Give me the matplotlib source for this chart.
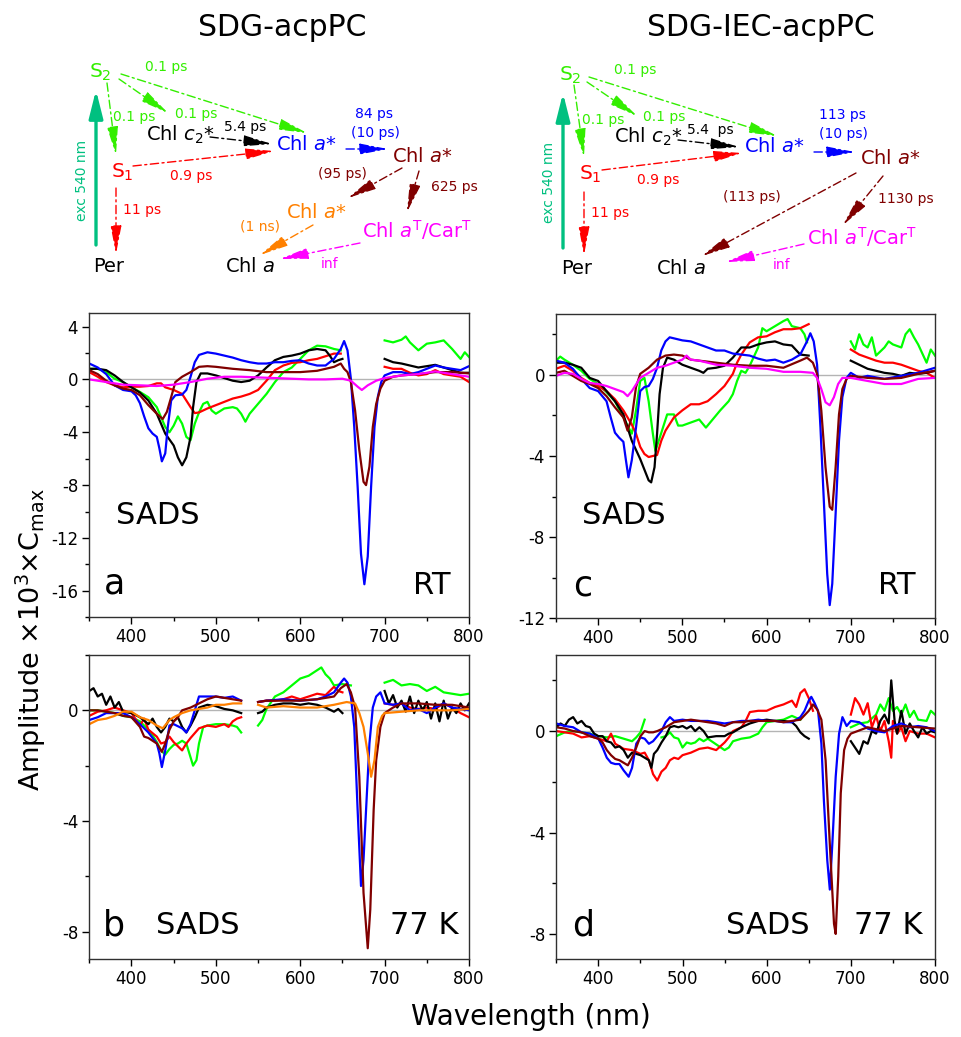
import numpy as np
import matplotlib
matplotlib.use('Agg')
import matplotlib.pyplot as plt
from matplotlib.ticker import MultipleLocator

nan = np.nan
plt.rcParams['font.family'] = ['DejaVu Sans']
plt.rcParams['axes.unicode_minus'] = False
plt.rcParams['mathtext.fontset'] = 'dejavusans'

GREEN = '#00ff00'
RED = '#ff0000'
BLUE = '#0000ff'
BLACK = '#000000'
BROWN = '#800000'
MAGENTA = '#ff00ff'
ORANGE = '#ff8000'
TEAL = '#00c080'
GTXT = '#33ee00'

# ---------------- Panel a (SDG-acpPC, RT) ----------------
a_blue_wl = [350,360,370,380,390,400,405,410,415,420,425,430,433,436,440,443,447,452,460,465,470,475,480,490,500,510,520,530,540,550,560,570,580,590,600,610,620,630,640,648,652,656,660,664,668,672,676,680,684,688,692,696,700,710,720,730,740,750,760,770,780,790,800]
a_blue = [1.2,0.9,0.4,-0.45,-0.8,-0.9,-1.2,-1.8,-2.8,-3.7,-4.1,-4.35,-5.2,-6.2,-5.6,-3.6,-1.6,-1.2,-1.15,-0.8,0.2,1.3,1.85,2.05,1.95,1.8,1.65,1.45,1.3,1.2,1.2,1.3,1.3,1.4,1.45,1.2,1.05,1.05,1.55,2.3,2.9,2.2,0.05,-3.6,-8.1,-13.2,-15.5,-13.4,-8.1,-3.6,-1.3,-0.2,0.3,0.55,0.55,0.4,0.55,0.8,1.05,0.9,0.8,0.7,1.0]

a_black_wl = [350,360,370,380,390,400,410,420,430,440,450,455,460,465,470,473,477,482,490,500,510,520,530,540,550,560,570,580,590,600,610,620,630,635,640,645,650,675,700,710,720,730,740,750,760,770,780,790,800]
a_black = [0.8,0.8,0.7,0.3,-0.2,-0.6,-1.0,-1.6,-2.6,-4.1,-5.0,-5.9,-6.5,-5.9,-4.35,-2.1,-0.2,0.45,0.45,0.3,0.1,-0.1,-0.2,-0.1,0.3,0.9,1.45,1.7,1.8,1.95,2.2,2.3,2.2,1.8,1.3,1.45,1.55,nan,1.55,1.3,1.2,1.05,0.9,1.0,1.1,0.9,0.7,0.5,0.5]

a_green_wl = [350,360,370,380,390,400,410,420,430,440,445,450,455,460,465,470,475,480,485,490,495,500,510,520,525,530,535,540,550,560,570,580,590,600,610,620,630,640,648,675,700,710,720,725,730,740,750,760,770,780,790,795,800]
a_green = [0.8,0.8,0.55,0.05,-0.2,-0.6,-0.95,-1.35,-2.1,-3.6,-4.0,-3.5,-2.8,-3.35,-4.35,-4.6,-3.35,-2.5,-1.85,-1.7,-2.35,-2.6,-2.2,-2.1,-2.2,-2.6,-3.2,-2.6,-1.85,-1.1,-0.2,0.55,0.9,1.55,2.2,2.55,2.5,2.3,2.2,nan,2.95,2.8,3.0,3.25,2.8,2.2,2.7,2.8,2.95,2.3,1.55,2.05,1.7]

a_red_wl = [350,360,370,380,390,400,410,420,430,435,440,450,460,470,475,480,490,500,510,520,530,540,550,560,570,580,590,600,610,620,630,640,648,675,700,710,720,730,740,750,760,770,780,790,800]
a_red = [0.55,0.2,-0.2,-0.45,-0.6,-0.55,-0.55,-0.5,-0.3,-0.3,-0.6,-0.8,-1.1,-2.1,-2.55,-2.5,-2.2,-1.95,-1.7,-1.45,-1.3,-1.1,-0.8,-0.1,0.7,1.05,1.25,1.3,1.45,1.55,1.75,1.95,1.95,nan,0.95,0.8,0.8,0.5,0.3,0.4,0.7,0.4,0.3,0.2,-0.2]

a_brown_wl = [350,360,370,380,390,400,410,420,430,437,442,447,452,460,470,480,490,500,520,540,560,580,600,620,640,648,652,656,660,665,670,675,678,682,686,690,695,700,710,720,740,760,780,800]
a_brown = [0.7,0.4,-0.1,-0.45,-0.7,-0.8,-1.2,-1.95,-2.6,-3.0,-2.45,-1.35,-0.2,0.2,0.55,0.95,1.0,0.95,0.8,0.7,0.55,0.55,0.55,0.65,0.95,1.2,0.8,0.55,-0.2,-2.35,-5.35,-7.75,-8.0,-6.6,-3.6,-1.85,-0.7,-0.1,0.2,0.3,0.4,0.55,0.55,0.45]

a_magenta_wl = [350,370,390,410,430,450,470,490,510,530,550,570,590,610,630,650,660,668,673,680,690,700,720,740,760,780,800]
a_magenta = [0.0,-0.2,-0.4,-0.45,-0.5,-0.4,-0.2,0.05,0.2,0.2,0.15,0.1,0.05,0.0,0.0,0.05,-0.1,-0.55,-0.8,-0.45,-0.1,0.1,0.3,0.4,0.6,0.4,0.2]

# ---------------- Panel c (SDG-IEC-acpPC, RT) ----------------
c_blue_wl = [350,360,370,380,390,400,410,415,420,425,430,433,436,440,445,450,455,460,465,470,475,480,485,490,500,510,520,530,540,550,560,570,580,590,600,610,620,630,640,648,652,656,660,664,668,672,675,678,682,686,690,695,700,710,720,740,760,780,800]
c_blue = [0.7,0.6,0.3,-0.2,-0.65,-0.8,-1.3,-2.1,-2.85,-3.1,-3.3,-4.2,-5.05,-4.2,-2.6,-0.8,-0.6,-0.55,-0.2,0.35,1.2,1.65,1.85,1.8,1.7,1.65,1.5,1.35,1.2,1.2,1.05,1.0,0.95,0.8,0.7,0.75,0.6,0.75,1.0,1.65,2.05,1.65,0.5,-2.6,-6.2,-9.8,-11.35,-10.3,-6.85,-3.25,-1.1,-0.15,0.1,-0.15,-0.05,-0.2,-0.05,0.1,0.35]

c_black_wl = [350,360,370,380,390,400,410,420,430,440,450,460,463,467,470,473,477,482,490,500,510,520,525,530,540,550,560,570,580,590,600,610,620,630,640,650,675,700,710,720,730,740,750,760,770,780,790,800]
c_black = [0.6,0.6,0.5,0.35,-0.15,-0.3,-0.8,-1.3,-1.95,-3.25,-4.15,-5.2,-5.3,-4.55,-2.9,-0.95,0.35,0.85,0.75,0.5,0.35,0.2,0.1,0.3,0.35,0.45,0.85,1.35,1.35,1.5,1.6,1.65,1.5,1.45,1.0,0.95,nan,0.7,0.5,0.3,0.2,0.1,0.05,-0.05,0.1,0.05,0.1,0.2]

c_green_wl = [350,355,360,370,380,390,400,410,420,430,440,445,450,455,460,465,468,472,477,482,490,495,500,510,520,528,535,545,555,560,565,570,575,580,590,595,600,610,620,625,630,640,645,648,675,700,705,710,715,720,725,730,740,745,750,760,765,770,775,780,790,795,800]
c_green = [0.7,0.9,0.75,0.5,0.2,-0.2,-0.45,-0.85,-1.3,-2.1,-2.9,-1.75,-0.3,-0.15,-1.3,-2.9,-3.75,-3.25,-2.6,-1.95,-1.95,-2.5,-2.5,-2.35,-2.2,-2.6,-2.25,-1.75,-1.3,-0.95,-0.3,0.2,0.1,0.45,1.35,2.3,2.15,2.4,2.65,2.75,2.4,2.3,2.0,1.6,nan,1.65,1.25,2.0,1.5,1.35,1.85,0.95,1.35,1.65,1.5,1.35,2.0,2.25,1.85,1.5,0.6,1.25,0.95]

c_red_wl = [350,360,370,380,390,400,410,420,430,440,445,450,455,460,470,475,480,490,500,510,520,530,540,550,560,565,570,580,590,600,610,620,630,640,650,675,700,710,720,730,740,750,760,770,780,790,800]
c_red = [0.3,0.45,0.2,-0.15,-0.4,-0.55,-0.8,-1.2,-1.75,-2.45,-2.9,-3.55,-3.9,-4.05,-3.95,-3.25,-2.75,-2.1,-1.75,-1.45,-1.45,-1.3,-0.95,-0.55,0.05,0.6,1.0,1.6,1.85,1.9,2.1,2.25,2.25,2.3,2.5,nan,1.25,1.0,0.85,0.7,0.6,0.6,0.5,0.35,0.2,0.1,-0.15]

c_brown_wl = [350,360,370,380,390,400,410,420,430,435,440,445,450,460,470,480,490,500,510,520,540,560,580,600,620,640,648,655,660,665,670,675,678,682,686,690,695,700,720,740,760,780,800]
c_brown = [0.1,0.2,-0.05,-0.3,-0.45,-0.65,-1.05,-1.6,-2.1,-2.75,-2.1,-0.6,0.05,0.35,0.75,0.95,1.0,0.95,0.75,0.7,0.6,0.5,0.45,0.45,0.35,0.7,0.85,0.6,0.05,-1.75,-4.55,-6.5,-6.65,-4.55,-1.95,-0.7,-0.2,-0.05,-0.15,-0.2,-0.15,0.05,0.2]

c_magenta_wl = [350,360,370,380,390,400,410,420,430,435,440,450,460,470,480,490,500,505,510,520,540,560,580,600,620,640,655,660,665,670,675,680,685,690,700,720,740,760,780,800]
c_magenta = [-0.05,0.1,0.05,-0.2,-0.4,-0.45,-0.55,-0.7,-0.85,-1.05,-0.8,-0.15,0.1,0.35,0.45,0.6,0.75,0.95,0.75,0.7,0.5,0.45,0.35,0.3,0.15,0.15,0.1,-0.15,-0.7,-1.35,-1.5,-1.1,-0.45,-0.15,-0.15,-0.3,-0.45,-0.45,-0.2,-0.15]

# ---------------- Panel b (SDG-acpPC, 77 K) ----------------
b_black_wl = [350,355,360,365,370,375,380,385,390,400,410,420,425,430,435,440,445,450,455,460,465,470,475,480,490,500,510,520,530,540,550,555,560,570,580,590,600,610,620,630,640,645,650,675,700,705,710,715,720,725,730,735,740,745,750,755,760,765,770,775,780,785,790,795,800]
b_black = [0.7,0.8,0.5,0.6,0.2,0.5,0.1,0.3,-0.05,-0.1,-0.25,-0.5,-0.3,-0.6,-0.8,-0.6,-0.3,-0.4,-0.25,-0.6,-0.8,-0.55,-0.25,0.1,0.2,0.15,0.05,0.0,-0.1,nan,-0.1,-0.05,0.1,0.2,0.25,0.25,0.2,0.25,0.2,0.1,-0.05,0.05,-0.1,nan,0.7,0.25,0.55,0.1,0.35,-0.05,0.5,-0.1,0.35,0.0,0.3,-0.3,0.25,-0.4,0.35,-0.3,0.1,-0.1,0.25,0.0,0.25]

b_green_wl = [350,360,370,380,390,400,410,420,425,430,435,440,445,450,455,460,465,470,473,477,480,485,490,500,510,520,525,530,540,550,555,560,570,580,590,600,610,620,625,630,635,640,650,660,680,700,710,720,730,740,750,760,770,780,790,800]
b_green = [0.0,0.0,-0.05,-0.1,-0.2,-0.25,-0.4,-0.7,-0.9,-1.15,-1.45,-1.6,-1.4,-1.25,-1.2,-1.1,-1.2,-1.7,-2.0,-1.8,-1.2,-0.6,-0.55,-0.5,-0.5,-0.55,-0.6,-0.8,nan,-0.55,-0.35,0.05,0.5,0.65,0.9,1.15,1.25,1.45,1.55,1.3,1.15,0.9,0.95,0.9,nan,1.0,1.1,0.9,0.95,0.9,0.7,0.85,0.65,0.6,0.55,0.6]

b_red_wl = [350,360,370,380,390,400,410,415,420,430,435,440,445,450,455,460,465,470,480,490,500,510,515,520,525,530,540,550,560,570,580,590,600,610,620,630,640,645,650,675,700,710,720,730,740,750,760,770,780,790,800]
b_red = [-0.2,-0.05,0.0,0.1,0.0,-0.1,-0.55,-0.3,-0.7,-0.95,-1.2,-1.15,-0.95,-1.15,-1.3,-1.45,-1.2,-1.0,-0.65,-0.55,-0.6,-0.5,-0.6,-0.4,-0.3,-0.25,nan,0.3,0.35,0.35,0.4,0.5,0.4,0.5,0.6,0.55,0.85,0.7,0.65,nan,0.25,0.2,0.25,0.1,0.05,0.1,0.05,0.25,0.1,-0.1,-0.25]

b_blue_wl = [350,360,370,380,390,400,410,420,430,433,436,440,445,450,460,465,470,475,480,490,500,510,520,530,540,550,560,580,600,620,630,640,648,652,656,660,664,668,672,675,678,682,686,690,695,700,710,720,730,740,750,760,770,780,790,800]
b_blue = [-0.35,-0.25,-0.1,-0.1,-0.1,-0.25,-0.5,-0.8,-1.2,-1.55,-2.05,-1.45,-0.55,-0.5,-0.65,-0.8,-0.5,0.0,0.5,0.5,0.5,0.45,0.5,0.35,nan,0.3,0.35,0.4,0.35,0.4,0.5,0.65,1.0,1.15,1.0,0.5,-0.6,-3.6,-6.35,-5.4,-3.6,-1.2,0.1,0.5,0.65,0.25,0.2,0.25,0.0,0.05,-0.1,0.1,0.25,0.1,0.05,0.0]

b_brown_wl = [350,360,370,380,390,400,410,415,420,430,436,440,445,450,455,460,470,480,490,500,510,520,530,540,550,560,580,600,620,640,648,655,660,665,670,675,680,683,687,690,695,700,710,720,740,760,780,800]
b_brown = [0.0,0.0,-0.05,-0.1,-0.2,-0.25,-0.6,-0.95,-1.0,-1.2,-1.5,-1.2,-0.7,-0.4,-0.25,0.0,0.1,0.25,0.4,0.5,0.45,0.4,0.35,nan,0.3,0.35,0.35,0.35,0.4,0.5,0.8,0.95,0.65,0.1,-2.4,-6.6,-8.6,-7.2,-3.6,-1.8,-0.6,-0.1,0.1,0.25,0.25,0.2,0.2,0.1]

b_orange_wl = [350,360,370,380,390,400,410,420,430,437,445,450,460,470,480,490,500,510,520,530,540,550,560,580,600,620,640,655,665,670,675,680,684,688,692,697,700,720,740,760,780,800]
b_orange = [-0.5,-0.35,-0.3,-0.2,-0.05,-0.05,-0.25,-0.35,-0.55,-0.65,-0.35,-0.25,-0.1,0.0,0.05,0.1,0.2,0.2,0.25,0.25,nan,0.2,0.1,0.15,0.1,0.1,0.2,0.3,0.25,-0.1,-0.6,-1.55,-2.4,-1.8,-0.6,-0.2,-0.1,-0.05,0.0,0.0,0.0,0.05]

# ---------------- Panel d (SDG-IEC-acpPC, 77 K) ----------------
d_black_wl = [350,355,360,365,370,375,380,385,390,395,400,405,410,415,420,425,430,435,440,445,450,455,460,463,466,470,475,480,485,490,495,500,505,510,515,520,525,530,540,550,555,560,570,580,590,600,610,620,630,635,640,645,650,675,700,705,710,715,720,725,730,735,740,745,748,752,755,760,765,770,775,780,785,790,795,800]
d_black = [0.15,0.3,0.2,0.45,0.55,0.3,0.4,0.2,0.15,-0.1,-0.2,-0.2,-0.4,-0.45,-0.65,-0.6,-0.75,-1.05,-0.85,-0.9,-0.95,-1.05,-1.15,-1.45,-0.9,-0.75,-0.45,-0.2,0.15,0.2,0.15,0.2,0.1,0.2,0.0,0.15,0.0,-0.25,-0.2,-0.2,-0.1,-0.05,0.15,0.3,0.4,0.45,0.4,0.4,0.35,0.2,-0.05,-0.2,-0.3,nan,-0.4,-0.65,-0.9,-0.4,-0.5,0.0,-0.1,0.4,0.65,0.3,2.0,0.4,-0.1,0.8,-0.1,0.3,0.0,-0.25,0.15,-0.1,0.0,-0.05]

d_green_wl = [350,360,370,380,390,400,410,420,430,440,445,450,455,465,475,480,485,490,495,500,505,510,515,520,525,530,550,555,560,570,580,590,595,600,610,620,630,640,670,700,710,720,730,735,740,745,750,755,760,765,770,775,780,790,795,800]
d_green = [-0.2,-0.05,0.0,-0.05,-0.1,-0.2,-0.25,-0.2,-0.3,-0.4,-0.25,-0.05,0.45,nan,-0.25,-0.2,-0.05,-0.25,-0.3,-0.65,-0.45,-0.5,-0.45,-0.3,-0.4,-0.3,-0.75,-0.65,-0.4,-0.3,-0.25,-0.1,0.15,0.35,0.4,0.45,0.6,0.45,nan,0.15,0.3,0.35,0.65,1.05,0.8,1.3,0.8,0.95,0.65,1.05,0.55,0.8,0.45,0.4,0.8,0.65]

d_red_wl = [350,360,370,380,390,400,410,415,420,430,440,450,455,460,465,470,475,480,485,490,495,500,510,520,530,540,550,555,560,570,575,580,590,600,610,620,630,635,640,645,650,655,675,700,705,710,715,720,725,730,735,740,745,748,750,755,760,765,770,780,790,800]
d_red = [0.0,-0.05,-0.1,-0.25,-0.2,-0.3,-0.4,-0.1,-0.5,-0.7,-0.75,-0.9,-0.85,-1.15,-1.7,-1.95,-1.6,-1.45,-1.15,-1.05,-1.1,-0.95,-0.85,-0.7,-0.65,-0.75,-0.45,-0.25,0.0,0.15,0.4,0.75,0.8,0.8,0.95,1.05,1.2,0.95,1.5,1.65,1.3,0.8,nan,0.65,1.3,1.05,0.65,1.1,0.15,0.6,0.0,0.4,-0.4,-1.05,0.4,-0.1,0.15,-0.4,0.0,-0.1,-0.1,-0.25]

d_blue_wl = [350,360,370,380,390,400,405,410,415,420,425,430,436,440,445,450,455,460,465,470,475,480,485,490,500,510,520,530,540,550,560,570,580,590,600,610,620,630,640,645,650,653,657,661,665,668,672,675,678,682,686,690,695,700,710,720,730,740,750,760,770,780,790,800]
d_blue = [0.3,0.2,0.15,-0.05,-0.1,-0.3,-0.65,-1.05,-1.25,-1.3,-1.3,-1.55,-1.8,-1.45,-0.5,-0.25,-0.3,-0.5,-0.4,-0.2,0.0,0.35,0.55,0.4,0.45,0.4,0.4,0.4,0.35,0.3,0.35,0.4,0.4,0.45,0.4,0.4,0.35,0.35,0.55,0.8,1.2,1.35,1.1,0.8,-0.5,-2.75,-5.1,-6.25,-4.45,-1.8,-0.1,0.55,0.2,0.4,0.35,0.1,0.0,-0.05,0.2,0.3,0.15,0.2,0.15,0.0]

d_brown_wl = [350,360,370,380,390,400,405,410,415,420,425,430,435,440,445,450,455,460,465,470,480,490,500,510,520,530,540,550,560,570,580,590,600,610,620,630,640,650,655,660,665,670,675,680,682,685,688,692,696,700,720,740,760,780,800]
d_brown = [0.15,0.1,0.0,-0.05,-0.2,-0.3,-0.45,-0.75,-0.95,-1.1,-1.15,-1.25,-1.35,-1.05,-0.65,-0.2,0.0,-0.05,-0.05,0.0,0.15,0.35,0.4,0.45,0.4,0.35,0.3,0.2,0.35,0.35,0.4,0.4,0.4,0.4,0.35,0.4,0.45,0.8,1.05,0.85,0.45,-1.15,-4.45,-7.6,-8.0,-5.75,-2.45,-0.75,-0.3,-0.1,0.15,0.0,0.2,0.15,0.1]

W, H = 961, 1037
fig = plt.figure(figsize=(W / 100, H / 100), dpi=100)

# ---------- reaction schemes (pixel coordinate overlay) ----------
sch = fig.add_axes([0, 0, 1, 1])
sch.set_xlim(0, W)
sch.set_ylim(H, 0)
sch.axis('off')
sch.patch.set_alpha(0)


def txt(x, y, s, color, size, **kw):
    sch.text(x, y, s, color=color, fontsize=size, ha='center', va='center', **kw)


def arr(x0, y0, x1, y1, color):
    sch.annotate('', xy=(x1, y1), xytext=(x0, y0),
                 arrowprops=dict(arrowstyle='-|>,head_length=1.25,head_width=0.24',
                                 mutation_scale=14, color=color, lw=1.0,
                                 linestyle=(0, (6, 2.5, 1.5, 2.5)), shrinkA=0, shrinkB=0))


def exc(x, y0, y1):
    sch.annotate('', xy=(x, y1), xytext=(x, y0),
                 arrowprops=dict(arrowstyle='-|>,head_length=1.2,head_width=0.3',
                                 mutation_scale=14, color=TEAL, lw=2.4,
                                 shrinkA=0, shrinkB=0))


SP = 14
RT = 10
# left scheme
txt(282, 28, 'SDG-acpPC', BLACK, 21.5)
txt(100, 72, 'S$_2$', GTXT, 14.5)
txt(166, 67, '0.1 ps', GTXT, RT)
exc(96, 245, 90)
txt(82, 180, 'exc 540 nm', TEAL, RT, rotation=90)
arr(107, 83, 116, 155, GTXT)
txt(134, 117, '0.1 ps', GTXT, RT)
arr(119, 79, 168, 113, GTXT)
txt(196, 114, '0.1 ps', GTXT, RT)
arr(121, 74, 307, 133, GTXT)
txt(180, 135, 'Chl $c_2$*', BLACK, SP)
txt(245, 127, '5.4 ps', BLACK, RT)
arr(210, 137, 272, 144, BLACK)
txt(122, 172, 'S$_1$', RED, 14.5)
arr(133, 166, 274, 151, RED)
txt(191, 176, '0.9 ps', RED, RT)
txt(306, 144, 'Chl $a$*', BLUE, SP)
txt(374, 114, '84 ps', BLUE, RT)
txt(375, 133, '(10 ps)', BLUE, RT)
arr(346, 149, 388, 149, BLUE)
txt(422, 156, 'Chl $a$*', BROWN, SP)
txt(342, 174, '(95 ps)', BROWN, RT)
arr(402, 168, 348, 198, BROWN)
txt(454, 187, '625 ps', BROWN, RT)
arr(419, 171, 407, 212, BROWN)
txt(316, 212, 'Chl $a$*', ORANGE, SP)
txt(260, 227, '(1 ns)', ORANGE, RT)
arr(313, 225, 260, 255, ORANGE)
txt(417, 230, 'Chl $a^{\\rm T}$/Car$^{\\rm T}$', MAGENTA, SP)
arr(360, 243, 280, 259, MAGENTA)
txt(330, 264, 'inf', MAGENTA, RT)
txt(250, 267, 'Chl $a$', BLACK, SP)
txt(142, 210, '11 ps', RED, RT)
arr(116, 188, 116, 254, RED)
txt(109, 267, 'Per', BLACK, SP)

# right scheme
txt(761, 28, 'SDG-IEC-acpPC', BLACK, 21.5)
txt(570, 75, 'S$_2$', GTXT, 14.5)
txt(635, 70, '0.1 ps', GTXT, RT)
exc(563, 248, 93)
txt(549, 182, 'exc 540 nm', TEAL, RT, rotation=90)
arr(574, 85, 584, 157, GTXT)
txt(603, 120, '0.1 ps', GTXT, RT)
arr(587, 82, 637, 116, GTXT)
txt(664, 117, '0.1 ps', GTXT, RT)
arr(589, 77, 777, 136, GTXT)
txt(648, 137, 'Chl $c_2$*', BLACK, SP)
txt(710, 130, '5.4  ps', BLACK, RT)
arr(678, 140, 739, 147, BLACK)
txt(590, 174, 'S$_1$', RED, 14.5)
arr(602, 170, 742, 153, RED)
txt(658, 180, '0.9 ps', RED, RT)
txt(774, 147, 'Chl $a$*', BLUE, SP)
txt(842, 115, '113 ps', BLUE, RT)
txt(843, 134, '(10 ps)', BLUE, RT)
arr(814, 152, 855, 152, BLUE)
txt(890, 159, 'Chl $a$*', BROWN, SP)
txt(752, 197, '(113 ps)', BROWN, RT)
arr(856, 173, 702, 256, BROWN)
txt(906, 199, '1130 ps', BROWN, RT)
arr(883, 176, 843, 225, BROWN)
txt(862, 237, 'Chl $a^{\\rm T}$/Car$^{\\rm T}$', MAGENTA, SP)
arr(804, 244, 726, 262, MAGENTA)
txt(782, 265, 'inf', MAGENTA, RT)
txt(681, 268, 'Chl $a$', BLACK, SP)
txt(610, 213, '11 ps', RED, RT)
arr(584, 192, 584, 255, RED)
txt(577, 268, 'Per', BLACK, SP)

# ---------- spectra panels ----------
def px_axes(left, top, right, bottom):
    return fig.add_axes([left / W, 1 - bottom / H, (right - left) / W, (bottom - top) / H])


def style(ax, ylim):
    ax.set_xlim(350, 800)
    ax.set_ylim(*ylim)
    ax.axhline(0, color='#b4b4b4', lw=1.0, zorder=0)
    ax.xaxis.set_major_locator(MultipleLocator(100))
    ax.xaxis.set_minor_locator(MultipleLocator(50))
    ax.yaxis.set_major_locator(MultipleLocator(4))
    ax.yaxis.set_minor_locator(MultipleLocator(2))
    ax.tick_params(which='major', direction='out', length=5, width=1, labelsize=12, pad=3)
    ax.tick_params(which='minor', direction='out', length=3, width=1)
    for s in ax.spines.values():
        s.set_linewidth(1.0)
        s.set_color('#303030')


def draw(ax, curves):
    for wl, vals, col in curves:
        ax.plot(wl, vals, color=col, lw=1.6, solid_joinstyle='round')


ax_a = px_axes(89.3, 313.3, 469, 617.3)
style(ax_a, (-18, 5))
draw(ax_a, [(a_green_wl, a_green, GREEN), (a_red_wl, a_red, RED), (a_black_wl, a_black, BLACK),
            (a_blue_wl, a_blue, BLUE), (a_brown_wl, a_brown, BROWN), (a_magenta_wl, a_magenta, MAGENTA)])

ax_c = px_axes(556, 314, 935, 618.3)
style(ax_c, (-12, 3))
draw(ax_c, [(c_green_wl, c_green, GREEN), (c_red_wl, c_red, RED), (c_black_wl, c_black, BLACK),
            (c_blue_wl, c_blue, BLUE), (c_brown_wl, c_brown, BROWN), (c_magenta_wl, c_magenta, MAGENTA)])

ax_b = px_axes(89.3, 655, 469, 959.3)
style(ax_b, (-9, 2))
draw(ax_b, [(b_green_wl, b_green, GREEN), (b_red_wl, b_red, RED), (b_black_wl, b_black, BLACK),
            (b_blue_wl, b_blue, BLUE), (b_brown_wl, b_brown, BROWN), (b_orange_wl, b_orange, ORANGE)])

ax_d = px_axes(556.3, 655, 935, 959.3)
style(ax_d, (-9, 3))
draw(ax_d, [(d_green_wl, d_green, GREEN), (d_red_wl, d_red, RED), (d_black_wl, d_black, BLACK),
            (d_blue_wl, d_blue, BLUE), (d_brown_wl, d_brown, BROWN)])

# panel annotations (pixel positions)
txt(158, 515, 'SADS', BLACK, 22)
txt(114, 583, 'a', BLACK, 25)
txt(432, 585, 'RT', BLACK, 22)
txt(624, 515, 'SADS', BLACK, 22)
txt(583, 585, 'c', BLACK, 25)
txt(897, 585, 'RT', BLACK, 22)
txt(114, 925, 'b', BLACK, 25)
txt(198, 925, 'SADS', BLACK, 22)
txt(424, 925, '77 K', BLACK, 22)
txt(583, 925, 'd', BLACK, 25)
txt(768, 925, 'SADS', BLACK, 22)
txt(888, 925, '77 K', BLACK, 22)

sch.set_zorder(5)

fig.text(31 / W, 1 - 640 / H, 'Amplitude $\\times$10$^3$$\\times$C$_{\\rm max}$', rotation=90,
         ha='center', va='center', fontsize=19.5)
fig.text(531 / W, 1 - 1017 / H, 'Wavelength (nm)', ha='center', va='center', fontsize=20)

fig.savefig('out.png', dpi=100)
